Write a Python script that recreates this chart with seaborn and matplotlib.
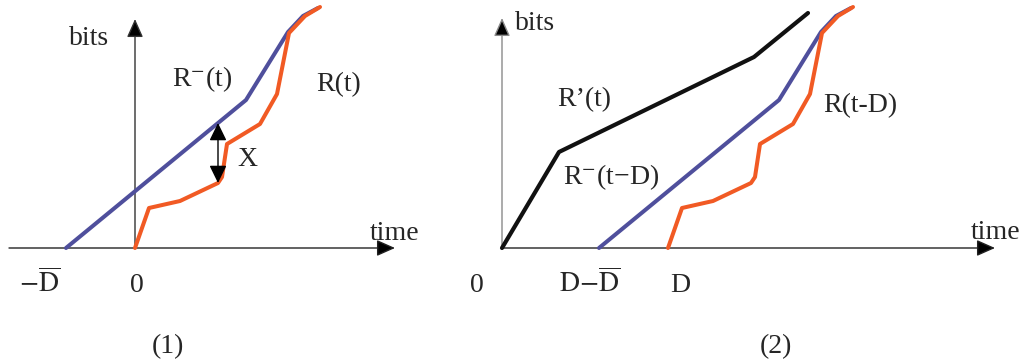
import matplotlib
matplotlib.use("Agg")
import matplotlib.pyplot as plt
import seaborn as sns
import numpy as np

sns.set_theme(style="white")
plt.rcParams["font.family"] = ["Liberation Serif", "DejaVu Serif"]
plt.rcParams["mathtext.fontset"] = "stix"

# ---------------- data (time units, bits units) ----------------
# R(t): actual arrival curve (panel 1, origin at t=0)
r_t = [0, 14, 45, 83, 87, 92, 125, 142, 154, 170, 185]
r_bits = [0, 40, 47, 65, 71, 104, 124, 154, 215, 232, 241]
# R^-(t): lower envelope starting at -Dbar
rm_t = [-69, 111, 153, 168, 183]
rm_bits = [0, 148, 216, 232, 240]
# R'(t): service curve in panel 2
rp_t = [0, 57, 252, 306]
rp_bits = [0, 96, 191, 235]
# X measurement point
x_t = 83
x_bits_low = 65
x_bits_high = 125
D = 166
DBAR = 69

BLUE = "#4f4f9c"
ORANGE = "#f15a24"
BLACK = "#111111"
FS = 20

fig = plt.figure(figsize=(10.23, 3.62), dpi=100)
fig.patch.set_facecolor("white")

ax1 = fig.add_axes([0, 0, 470 / 1023, 1])
ax2 = fig.add_axes([470 / 1023, 0, 553 / 1023, 1])
ax1.set_xlim(-135, 335)
ax2.set_xlim(-32, 521)
for ax in (ax1, ax2):
    ax.set_ylim(-114, 248)
    ax.axis("off")


def axis_arrow(ax, x0, y0, x1, y1, ec):
    ax.annotate("", xy=(x1, y1), xytext=(x0, y0),
                arrowprops=dict(arrowstyle="-|>,head_length=0.45,head_width=0.2",
                                mutation_scale=25, lw=1.0, ec=ec, fc="black",
                                shrinkA=0, shrinkB=0), zorder=1)


# ---------------- panel 1 ----------------
axis_arrow(ax1, -126, 0, 260, 0, "#222222")
axis_arrow(ax1, 0, 0, 0, 229, "#333333")
sns.lineplot(x=rm_t, y=rm_bits, ax=ax1, color=BLUE, linewidth=2.9,
             sort=False, estimator=None, zorder=3)
sns.lineplot(x=r_t, y=r_bits, ax=ax1, color=ORANGE, linewidth=2.9,
             sort=False, estimator=None, zorder=3)
ax1.annotate("", xy=(x_t, x_bits_high), xytext=(x_t, x_bits_low),
             arrowprops=dict(arrowstyle="<|-|>,head_length=0.45,head_width=0.22",
                             mutation_scale=24, lw=1.0, color="black",
                             shrinkA=0, shrinkB=0), zorder=4)

ax1.text(-46, 203, "bits", fontsize=FS, ha="center", va="baseline")
ax1.text(67, 162, "R$^{-}$(t)", fontsize=FS, ha="center", va="baseline")
ax1.text(204, 157, "R(t)", fontsize=FS, ha="center", va="baseline")
ax1.text(112, 82, "X", fontsize=FS, ha="center", va="baseline")
ax1.text(260, 8, "time", fontsize=FS, ha="center", va="baseline")
ax1.text(-95, -44, r"$-\overline{\mathrm{D}}$", fontsize=FS, ha="center", va="baseline")
ax1.text(2, -44, "0", fontsize=FS, ha="center", va="baseline")
ax1.text(33, -105, "(1)", fontsize=FS, ha="center", va="baseline")

# ---------------- panel 2 ----------------
axis_arrow(ax2, 0, 0, 493, 0, "#222222")
axis_arrow(ax2, 0, 0, 0, 230, "#8a8a8a")
sns.lineplot(x=rp_t, y=rp_bits, ax=ax2, color=BLACK, linewidth=3.0,
             sort=False, estimator=None, zorder=3)
sns.lineplot(x=[t + D for t in rm_t], y=rm_bits, ax=ax2, color=BLUE,
             linewidth=2.9, sort=False, estimator=None, zorder=3)
sns.lineplot(x=[t + D for t in r_t], y=r_bits, ax=ax2, color=ORANGE,
             linewidth=2.9, sort=False, estimator=None, zorder=3)

ax2.text(33, 218, "bits", fontsize=FS, ha="center", va="baseline")
ax2.text(82, 142, "R\u2019(t)", fontsize=FS, ha="center", va="baseline")
ax2.text(109, 64, "R$^{-}$(t\u2212D)", fontsize=FS, ha="center", va="baseline")
ax2.text(358, 136, "R(t-D)", fontsize=FS, ha="center", va="baseline")
ax2.text(494, 9, "time", fontsize=FS, ha="center", va="baseline")
ax2.text(-25, -44, "0", fontsize=FS, ha="center", va="baseline")
ax2.text(D - DBAR - 9, -44, r"$\mathrm{D}{-}\overline{\mathrm{D}}$", fontsize=FS,
         ha="center", va="baseline")
ax2.text(D + 12, -44, "D", fontsize=FS, ha="center", va="baseline")
ax2.text(274, -105, "(2)", fontsize=FS, ha="center", va="baseline")

fig.savefig("out.png", dpi=100, facecolor="white")
